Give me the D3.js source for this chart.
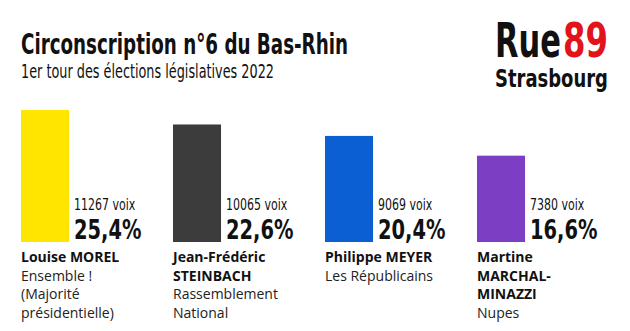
<!DOCTYPE html>
<html><head><meta charset="utf-8">
<script src="https://cdn.jsdelivr.net/npm/d3@7"></script>
<style>
html,body{margin:0;padding:0;background:#fff;}
svg{display:block;}
.cond{font-family:"DejaVu Sans Condensed","Liberation Sans Narrow",sans-serif;}
.lab{font-family:"Open Sans","Noto Sans",sans-serif;}
</style></head>
<body>
<svg id="c" width="630" height="331"></svg>
<script>
const candidates = ["Louise MOREL","Jean-Frédéric STEINBACH","Philippe MEYER","Martine MARCHAL-MINAZZI"];
const nameLines = [["Louise MOREL"],["Jean-Frédéric","STEINBACH"],["Philippe MEYER"],["Martine","MARCHAL-","MINAZZI"]];
const partyLines = [["Ensemble !","(Majorité","présidentielle)"],["Rassemblement","National"],["Les Républicains"],["Nupes"]];
const votes = [11267, 10065, 9069, 7380];
const percents = [25.4, 22.6, 20.4, 16.6];
const colors = ["#ffe600","#3c3c3c","#0b5fd3","#7c3ec3"];
const title = "Circonscription n°6 du Bas-Rhin";
const subtitle = "1er tour des élections législatives 2022";

const svg = d3.select("#c");
const fmtPct = v => d3.format(".1f")(v).replace(".", ",") + "%";
function squeeze(sel, f){
  sel.each(function(){
    const w = this.getComputedTextLength();
    d3.select(this).attr("textLength", w * f).attr("lengthAdjust","spacingAndGlyphs");
  });
}
// horizontally scale a text (placed at 0,0 inside a positioned group) to a target width
function fitWidth(gSel, target){
  const t = gSel.select("text").node();
  const w = t.getComputedTextLength();
  gSel.attr("transform", gSel.attr("transform") + ` scale(${target / w},1)`);
}

const x = d3.scaleBand().domain(candidates).range([21, 629]).paddingInner(0.684).paddingOuter(0.342).align(0);
const y = d3.scaleLinear().domain([0, 30]).range([242, 86]);

// Title
svg.append("text").attr("class","cond").attr("x",21).attr("y",54)
  .attr("font-size",29).attr("font-weight","bold").attr("fill","#111")
  .attr("textLength",327).attr("lengthAdjust","spacingAndGlyphs").text(title);
svg.append("text").attr("class","cond").attr("x",21).attr("y",78)
  .attr("font-size",19).attr("fill","#111")
  .attr("textLength",253).attr("lengthAdjust","spacingAndGlyphs").text(subtitle);

// Logo
const logoParts = [
  {t:"Rue", x:495, y:57, w:66, fs:48, c:"#111"},
  {t:"89", x:563, y:57, w:45, fs:48, c:"#e3131b"},
  {t:"Strasbourg", x:495, y:87, w:113, fs:24, c:"#111"}
];
logoParts.forEach(p => {
  const lg = svg.append("g").attr("transform", `translate(${p.x},${p.y})`);
  lg.append("text").attr("class","cond").attr("font-size",p.fs).attr("font-weight","bold")
    .attr("fill",p.c).text(p.t);
  fitWidth(lg, p.w);
});

const g = svg.selectAll("g.cand").data(candidates).join("g").attr("class","cand");
g.append("rect")
  .attr("x", d => x(d)).attr("width", x.bandwidth())
  .attr("y", (d,i) => y(percents[i])).attr("height", (d,i) => y(0) - y(percents[i]))
  .attr("fill", (d,i) => colors[i]);

g.append("text").attr("class","cond")
  .attr("x", d => x(d) + x.bandwidth() + 5).attr("y", 210)
  .attr("font-size",16.5).attr("fill","#111")
  .text((d,i) => votes[i] + " voix")
  .call(squeeze, 0.74);
g.append("text").attr("class","cond")
  .attr("x", d => x(d) + x.bandwidth() + 5).attr("y", 239)
  .attr("font-size",27).attr("font-weight","bold").attr("fill","#111")
  .text((d,i) => fmtPct(percents[i]))
  .call(squeeze, 0.8);

g.each(function(d,i){
  const sel = d3.select(this);
  let yy = 262;
  nameLines[i].forEach(l => {
    sel.append("text").attr("class","lab").attr("x", x(d)).attr("y", yy)
      .attr("font-size",14).attr("font-weight","bold").attr("fill","#111").text(l);
    yy += 18.5;
  });
  partyLines[i].forEach(l => {
    sel.append("text").attr("class","lab").attr("x", x(d)).attr("y", yy)
      .attr("font-size",14).attr("fill","#222").text(l);
    yy += 18.5;
  });
});
</script>
</body></html>
